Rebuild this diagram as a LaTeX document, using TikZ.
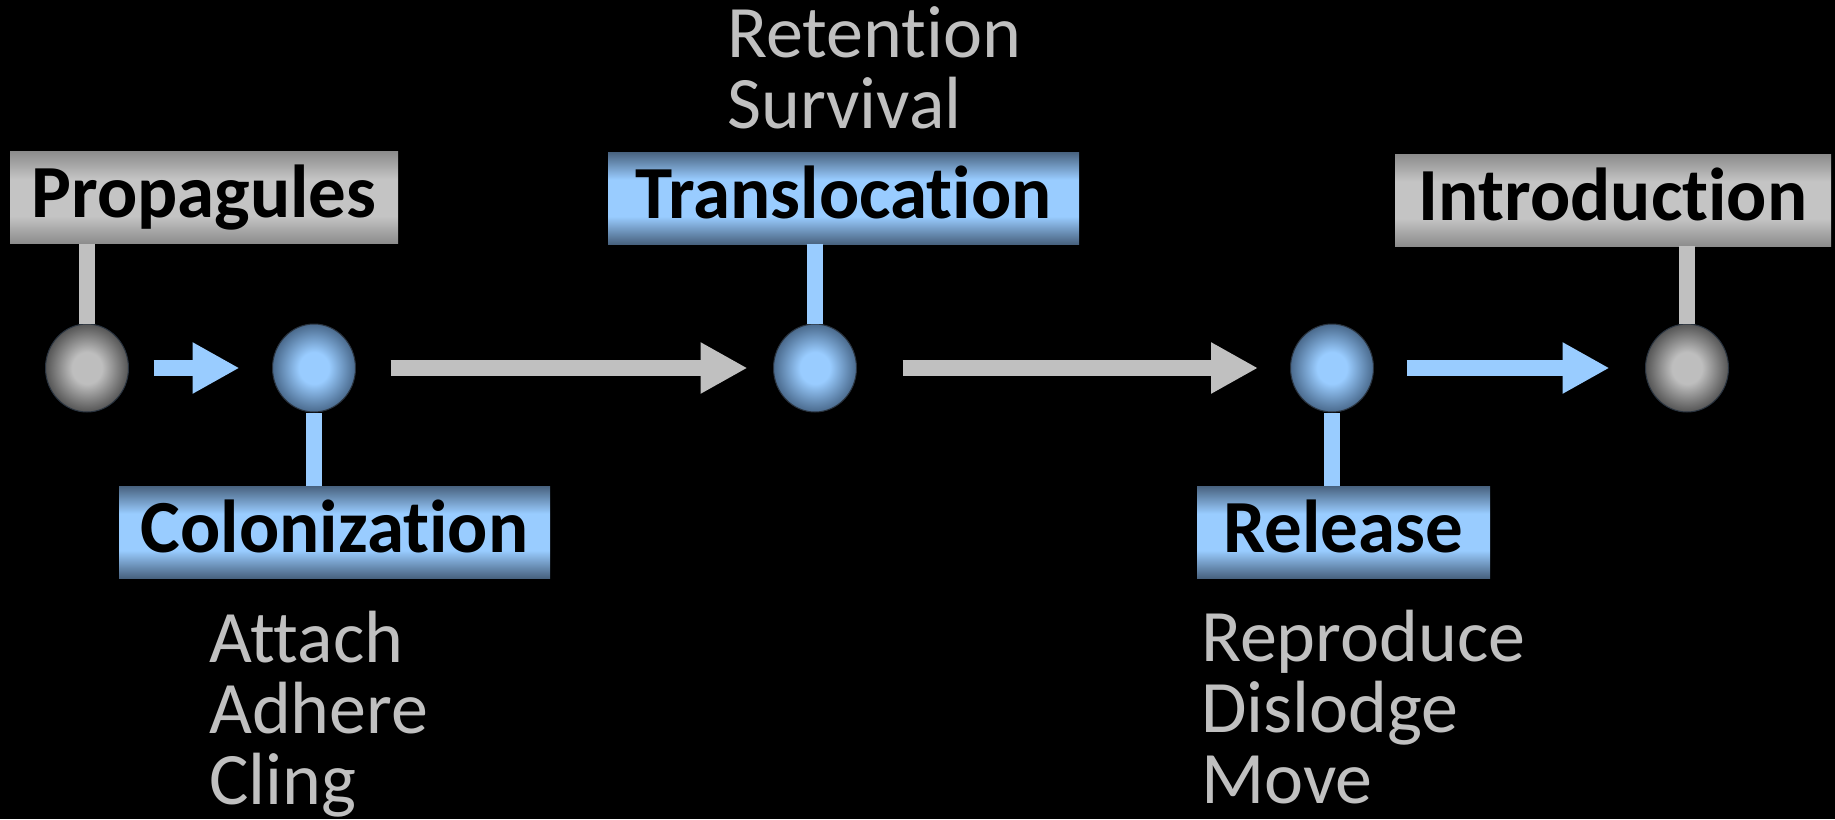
\documentclass[tikz,border=0pt]{standalone}
\usepackage{fontspec}
\setmainfont{Carlito}[Ligatures=NoCommon]
\usetikzlibrary{arrows.meta,shapes.geometric}

\definecolor{pale}{HTML}{C0C0C0}
\definecolor{sky}{HTML}{99CCFF}
\definecolor{skyedge}{HTML}{48627F}
\definecolor{greyedge}{HTML}{8C8C8C}
\definecolor{greymid}{HTML}{C4C4C4}
\definecolor{ballgrey}{HTML}{BEBEBE}
\definecolor{ballgreyedge}{HTML}{555555}
\definecolor{ballblueedge}{HTML}{4A6A8D}
\definecolor{rim}{HTML}{2A3440}

% bar fills: dark rim at top and bottom, bright band in the middle
\pgfdeclareverticalshading{bluebar}{100bp}{color(0bp)=(skyedge); color(25bp)=(skyedge); color(40bp)=(sky); color(60bp)=(sky); color(75bp)=(skyedge); color(100bp)=(skyedge)}
\pgfdeclareverticalshading{greybar}{100bp}{color(0bp)=(greyedge); color(25bp)=(greyedge); color(40bp)=(greymid); color(60bp)=(greymid); color(75bp)=(greyedge); color(100bp)=(greyedge)}
% ball fills: bright core fading to a darker edge
\pgfdeclareradialshading{blueball}{\pgfpoint{0bp}{0bp}}{color(0bp)=(sky); color(9bp)=(sky); color(25bp)=(ballblueedge); color(50bp)=(ballblueedge)}
\pgfdeclareradialshading{greyball}{\pgfpoint{0bp}{0bp}}{color(0bp)=(ballgrey); color(9bp)=(ballgrey); color(25bp)=(ballgreyedge); color(50bp)=(ballgreyedge)}

\tikzset{
  stage/.style={rectangle, inner sep=0pt, text height=66pt, text depth=26pt,
    text=black, font=\bfseries\fontsize{75pt}{75pt}\selectfont},
  bluestage/.style={stage, shading=bluebar},
  greystage/.style={stage, shading=greybar},
  ball/.style={ellipse, inner sep=0pt, minimum width=83pt, minimum height=88pt,
    draw=rim, line width=1pt},
  blueballnode/.style={ball, shading=blueball},
  greyballnode/.style={ball, shading=greyball},
  stem/.style={line width=16pt},
  flow/.style={line width=16pt, -{Triangle[length=47pt,width=48pt]}},
  notes/.style={inner sep=0pt, align=left, text=pale,
    font=\fontsize{74pt}{71pt}\selectfont},
}

\begin{document}
\begin{tikzpicture}[x=1pt,y=-1pt]
  \fill[black] (0,0) rectangle (1835,819);
  \useasboundingbox (0,0) rectangle (1835,819);

  % stage labels
  \node[greystage, minimum width=388pt] (prop)  at (204,197.5)  {Propagules};
  \node[bluestage, minimum width=471pt] (trans) at (843.5,198)  {Translocation};
  \node[greystage, minimum width=436pt] (intro) at (1613,200)   {Introduction};
  \node[bluestage, minimum width=431pt] (colon) at (334.5,532)  {Colonization};
  \node[bluestage, minimum width=293pt] (rel)   at (1343.5,532) {Release};

  % the five points of the pathway
  \node[greyballnode] (p1) at (87,368)   {};
  \node[blueballnode] (p2) at (314,368)  {};
  \node[blueballnode] (p3) at (815,368)  {};
  \node[blueballnode] (p4) at (1332,368) {};
  \node[greyballnode] (p5) at (1687,368) {};

  % stems joining labels to points
  \draw[stem, pale] (prop.south -| p1) -- (p1.north);
  \draw[stem, sky]  (colon.north -| p2) -- (p2.south);
  \draw[stem, sky]  (trans.south -| p3) -- (p3.north);
  \draw[stem, sky]  (rel.north -| p4) -- (p4.south);
  \draw[stem, pale] (intro.south -| p5) -- (p5.north);

  % arrows along the pathway
  \draw[flow, sky,  shorten <=24.5pt, shorten >=32.5pt] (p1) -- (p2);
  \draw[flow, pale, shorten <=34.5pt, shorten >=25.5pt] (p2) -- (p3);
  \draw[flow, pale, shorten <=45.5pt, shorten >=32pt]   (p3) -- (p4);
  \draw[flow, sky,  shorten <=32.5pt, shorten >=35.5pt] (p4) -- (p5);

  % processes listed beside the stages (anchored at the last line's baseline)
  \node[notes, anchor=base west] (ret) at (727,128)  {Retention\\Survival};
  \node[notes, anchor=base west] (att) at (209,804)  {Attach\\Adhere\\Cling};
  \node[notes, anchor=base west] (rep) at (1201,803) {Reproduce\\Dislodge\\Move};
\end{tikzpicture}
\end{document}
